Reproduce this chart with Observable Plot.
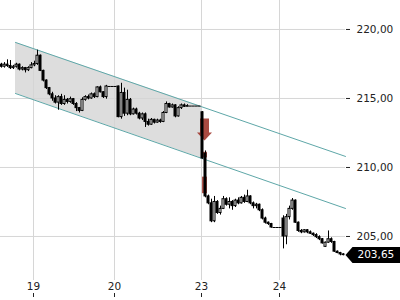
<!DOCTYPE html>
<html>
<head>
<meta charset="utf-8">
<script src="https://cdn.jsdelivr.net/npm/d3@7"></script>
<script src="https://cdn.jsdelivr.net/npm/@observablehq/plot@0.6"></script>
<style>
  html, body { margin: 0; padding: 0; background: #fff; }
  #chart { width: 400px; height: 300px; }
</style>
</head>
<body>
<div id="chart"></div>
<script>
// Day boundaries (candle index where each trading day starts) and their labels
const dayStarts = [11, 38, 67, 93];
const dayLabels = ["19", "20", "23", "24"];
const yTicks = [205, 210, 215, 220];

// OHLC series (one candle per index)
const opens = [217.45,217.3,217.45,217.35,217.2,217.3,217.45,217.1,217.2,217.05,217.2,217.4,217.5,218.1,217.0,216.3,215.75,215.3,215.0,214.7,215.1,214.6,214.9,214.75,214.95,214.6,214.3,214.1,214.9,215.1,215.0,215.3,215.1,215.8,215.45,215.1,215.87,215.87,215.87,215.87,213.65,215.4,213.9,214.9,213.85,214.2,213.9,213.55,213.85,213.3,213.1,213.45,213.25,213.4,213.3,213.95,214.6,214.35,214.5,213.7,214.3,214.5,214.4,214.45,214.45,214.45,214.45,214.0,211.0,207.9,207.4,206.1,207.5,206.7,207.0,207.7,207.3,207.5,207.2,207.6,207.4,207.8,207.5,207.9,207.4,207.2,207.3,206.9,206.3,206.0,205.9,205.65,205.65,205.65,206.3,205.0,206.4,207.0,207.6,206.0,205.4,205.3,205.45,205.3,205.2,205.1,204.95,204.8,204.25,204.55,204.8,204.6,203.9,203.8,203.7];
const highs = [217.55,217.6,217.8,217.75,217.4,217.55,217.5,217.3,217.25,217.3,217.6,217.7,218.5,218.15,217.05,216.35,215.8,215.45,215.2,215.2,215.3,215.2,215.0,215.1,215.0,214.7,214.35,215.05,215.2,215.25,215.4,215.4,215.85,215.9,215.5,215.95,215.87,215.87,215.87,215.9,216.1,215.75,215.6,215.0,214.3,214.3,214.0,213.95,213.95,213.5,213.55,213.5,213.5,213.5,214.05,214.75,214.65,214.6,214.55,214.4,214.6,214.6,214.55,214.45,214.45,214.45,214.45,214.05,211.2,208.0,207.7,207.9,207.6,207.2,207.9,207.8,207.8,207.6,207.7,207.8,207.9,208.0,208.35,207.95,207.5,207.4,207.35,207.0,206.4,206.05,205.95,205.65,205.65,205.65,206.5,206.6,207.2,207.75,207.65,206.05,205.5,205.5,205.5,205.4,205.25,205.2,205.05,204.85,204.6,205.4,204.9,204.65,203.95,203.85,203.75];
const lows = [217.2,217.2,217.25,217.1,217.1,217.2,217.0,217.0,216.85,216.95,217.15,217.3,217.4,216.95,216.2,215.65,215.2,214.8,214.6,214.15,214.5,214.5,214.6,214.65,214.5,214.05,213.95,214.05,214.8,214.9,214.95,215.0,215.05,215.4,215.0,214.95,215.87,215.87,215.87,213.6,213.5,213.7,213.75,213.75,213.8,213.8,213.45,213.4,212.9,213.0,213.05,213.15,213.2,213.2,213.25,213.9,214.3,214.3,213.6,213.65,214.2,214.35,214.4,214.45,214.45,214.45,214.45,210.6,207.8,207.3,206.0,206.0,206.6,206.55,206.95,207.2,207.0,206.9,207.1,207.3,207.35,207.4,207.45,207.3,207.0,207.0,206.8,206.2,205.9,205.8,205.6,205.65,205.65,205.65,204.1,204.4,206.2,206.9,205.95,205.3,205.2,205.25,205.2,205.15,205.0,204.85,204.7,204.45,204.2,204.5,204.5,203.85,203.75,203.6,203.6];
const closes = [217.3,217.45,217.35,217.2,217.3,217.45,217.1,217.2,217.05,217.2,217.4,217.5,218.1,217.0,216.3,215.75,215.3,215.0,214.7,215.1,214.6,214.9,214.75,214.95,214.6,214.3,214.1,214.9,215.1,215.0,215.3,215.1,215.8,215.45,215.1,215.87,215.87,215.87,215.87,213.65,215.4,213.9,214.9,213.85,214.2,213.9,213.55,213.85,213.3,213.1,213.45,213.25,213.4,213.3,213.95,214.6,214.35,214.5,213.7,214.3,214.5,214.4,214.45,214.45,214.45,214.45,214.45,210.65,207.9,207.4,206.1,207.5,206.7,207.0,207.7,207.3,207.5,207.2,207.6,207.4,207.8,207.5,207.9,207.4,207.2,207.3,206.9,206.3,206.0,205.9,205.65,205.65,205.65,205.65,205.0,206.4,207.0,207.6,206.0,205.4,205.3,205.45,205.3,205.2,205.1,204.95,204.8,204.5,204.55,204.8,204.6,203.9,203.8,203.7,203.65];

// Trend channel (candle index, upper / lower price) and the shaded part of it
const channelX = [5, 115];
const channelUpper = [219.06, 210.80];
const channelLower = [215.36, 207.03];
const shadeX = [5, 67];
const shadeUpper = [219.06, 214.41];
const shadeLower = [215.36, 210.67];

// Sell signal and opening gap markers
const signalCandle = [67];
const signalPrice = [213.55];
const gapCandle = [67, 67];
const gapTop = [211.1, 209.3];
const gapBottom = [210.7, 208.1];

const lastPrice = 203.65;

const candles = opens.map((o, i) => ({i, open: o, high: highs[i], low: lows[i], close: closes[i]}));
const channel = channelX.map((x, k) => ({x, upper: channelUpper[k], lower: channelLower[k]}));
const shade = shadeX.map((x, k) => ({x, upper: shadeUpper[k], lower: shadeLower[k]}));
const signals = signalCandle.map((c, k) => ({c, price: signalPrice[k]}));
const gaps = gapCandle.map((c, k) => ({c, top: gapTop[k], bottom: gapBottom[k]}));
const fmt = d => d.toFixed(2).replace(".", ",");
const red = "#a0362c";

const arrowShape = {
  draw(ctx, l) {
    const sw = 4.5, hw = 7.5, hl = 8;
    ctx.moveTo(-sw, 0);
    ctx.lineTo(sw, 0);
    ctx.lineTo(sw, -l + hl);
    ctx.lineTo(hw, -l + hl);
    ctx.lineTo(0, -l);
    ctx.lineTo(-hw, -l + hl);
    ctx.lineTo(-sw, -l + hl);
    ctx.closePath();
  }
};
const tagShape = {
  draw(ctx) {
    ctx.moveTo(0, 0);
    ctx.lineTo(7, -8);
    ctx.lineTo(56, -8);
    ctx.lineTo(56, 8);
    ctx.lineTo(7, 8);
    ctx.closePath();
  }
};

const chart = Plot.plot({
  width: 400,
  height: 300,
  marginTop: 0,
  marginLeft: 0,
  marginRight: 55,
  marginBottom: 20,
  style: {fontFamily: "DejaVu Sans", fontSize: "10.5px", background: "#fff", color: "#222"},
  x: {domain: [0, 115], axis: null},
  y: {domain: [201.81, 222.1], axis: null},
  marks: [
    Plot.gridY(yTicks, {stroke: "#d6d6d6", strokeOpacity: 1}),
    Plot.gridX(dayStarts, {stroke: "#d6d6d6", strokeOpacity: 1}),
    Plot.areaY(shade, {x: "x", y1: "lower", y2: "upper", fill: "#d4d4d4", fillOpacity: 0.8}),
    Plot.line(channel, {x: "x", y: "upper", stroke: "#5ea7a8", strokeWidth: 1}),
    Plot.line(channel, {x: "x", y: "lower", stroke: "#5ea7a8", strokeWidth: 1}),
    Plot.vector(signals, {x: d => d.c + 1, y: "price", length: 22, rotate: 180, anchor: "start",
      shape: arrowShape, fill: red, stroke: "none", fillOpacity: 0.9}),
    Plot.rect(gaps, {x1: d => d.c + 0.33, x2: d => d.c + 2, y1: "bottom", y2: "top", fill: red, fillOpacity: 0.85}),
    Plot.ruleX(candles, {x: d => d.i + 1 / 3, y1: "low", y2: "high", stroke: "#000", strokeWidth: 1}),
    Plot.rect(candles, {x1: d => d.i, x2: d => d.i + 2 / 3, y1: "open", y2: "close",
      fill: d => d.close > d.open ? "#fff" : "#000", stroke: "#000", strokeWidth: 1}),
    Plot.ruleY(candles, {filter: d => Math.abs(d.open - d.close) < 0.03, y: "close",
      x1: d => d.i - 1 / 6, x2: d => d.i + 5 / 6, stroke: "#000", strokeWidth: 1}),
    Plot.axisY(yTicks, {anchor: "right", label: null, tickSize: 4, tickPadding: 7, tickFormat: fmt, stroke: "#222", fill: "#222"}),
    Plot.axisX(dayStarts, {anchor: "bottom", label: null, tickSize: 0, tickPadding: 2, tickFormat: (d, k) => dayLabels[k], fill: "#222"}),
    Plot.axisX(dayStarts, {anchor: "bottom", label: null, tickSize: 4, tickFormat: () => "", dy: 13, stroke: "#222"}),
    Plot.vector([lastPrice], {x: 115, y: d => d, length: 1, rotate: 0, anchor: "start",
      shape: tagShape, fill: "#000", stroke: "none"}),
    Plot.text([lastPrice], {x: 115, y: d => d, text: fmt, dx: 12, textAnchor: "start", fill: "#fff", fontSize: 10.5})
  ]
});
document.getElementById("chart").appendChild(chart);
</script>
</body>
</html>
